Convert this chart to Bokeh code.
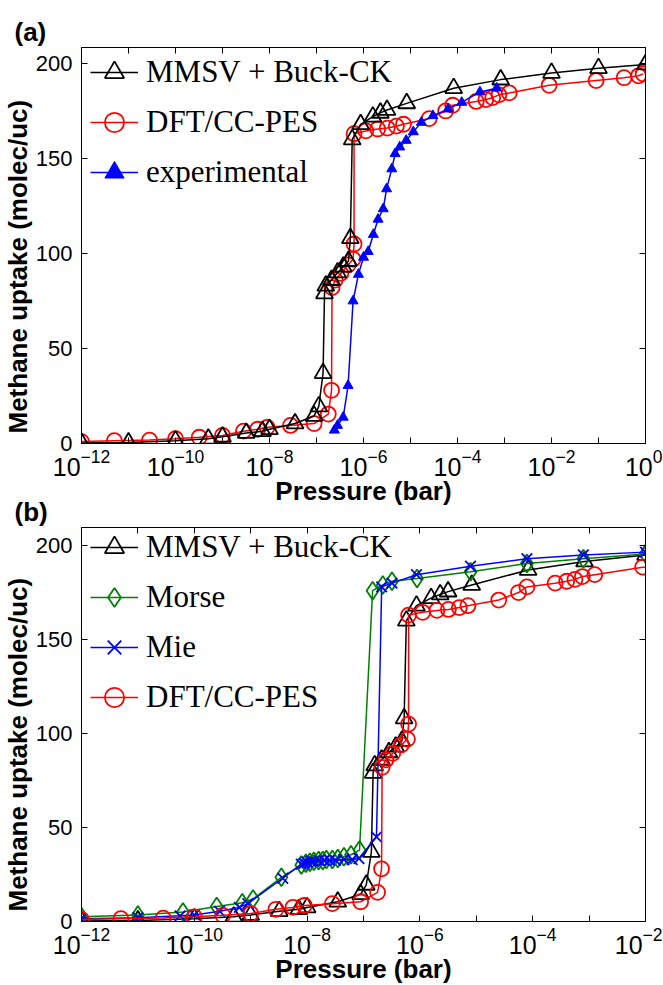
from bokeh.plotting import figure
from bokeh.models import (LinearAxis, LogAxis, FixedTicker, Legend, LegendItem,
                          Title, CustomJSTickFormatter)
from bokeh.layouts import column
from bokeh.embed import file_html
from bokeh.resources import INLINE

# ---------------- data (pressure in bar, uptake in molec/uc) ----------------
mmsv_p = [1e-12, 1e-11, 1e-10, 5.0e-10, 1.0e-9, 3.2e-9, 7.1e-9, 1.0e-8, 3.5e-8, 8.9e-8,
          1.12e-7, 1.38e-7, 1.48e-7, 1.58e-7, 2.09e-7, 2.82e-7, 3.72e-7, 4.79e-7, 5.25e-7,
          5.75e-7, 8.7e-7, 1.58e-6, 2.29e-6, 3.16e-6, 8.3e-6, 8.3e-5, 8.3e-4, 1.0e-2, 1.0e-1, 1.0]
mmsv_u = [0.3, 0.5, 1.5, 2.5, 3.5, 5.5, 6.5, 7.5, 10.5, 14.5,
          19.5, 37, 79, 83, 86, 90, 93, 96, 108,
          160, 168, 172, 174, 175.5, 179, 187, 191.5, 195, 197.5, 199.5]

dft_p = [1e-12, 5.0e-12, 2.8e-11, 1.0e-10, 3.2e-10, 1.0e-9, 2.8e-9, 5.6e-9, 8.9e-9, 2.8e-8,
         8.9e-8, 1.78e-7, 2.09e-7, 2.14e-7, 2.5e-7, 3.3e-7, 4.7e-7, 6.0e-7, 6.3e-7, 6.3e-7,
         1.12e-6, 2.0e-6, 3.2e-6, 5.0e-6, 7.1e-6, 2.5e-5, 5.6e-5, 7.9e-5, 2.5e-4, 4.0e-4,
         5.6e-4, 7.6e-4, 1.26e-3, 8.9e-3, 8.9e-2, 0.35, 0.71, 0.89]
dft_u = [1.0, 1.5, 1.8, 2.5, 3.3, 4.2, 6.5, 7.5, 8.5, 9.5,
         10.5, 15.5, 28, 82, 86, 89.5, 94, 97, 105, 163,
         164.5, 165.5, 166, 167, 168, 171, 175, 178, 180, 181,
         182, 183.5, 184.5, 188.5, 191, 192.5, 193.5, 194.5]

exp_p = [2.4e-7, 2.8e-7, 3.7e-7, 4.7e-7, 6.0e-7, 7.8e-7, 1.0e-6, 1.26e-6, 1.62e-6, 2.04e-6,
         2.63e-6, 3.1e-6, 4.0e-6, 4.7e-6, 5.9e-6, 8.1e-6, 1.15e-5, 1.7e-5, 3.0e-5, 6.3e-5,
         1.23e-4, 3.0e-4, 6.8e-4]
exp_u = [7, 9.5, 13.8, 30.5, 75, 89, 98, 101, 110, 118,
         123.5, 134, 144.5, 152.5, 156, 159.5, 164, 169, 172.5, 176,
         179.5, 185, 187]

morse_p = [1e-12, 1e-11, 6.3e-11, 2.5e-10, 7.1e-10, 1.1e-9, 3.5e-9, 7.9e-9, 9.5e-9, 1.12e-8,
           1.32e-8, 1.6e-8, 1.9e-8, 2.2e-8, 2.8e-8, 3.5e-8, 4.5e-8, 6.0e-8, 8.5e-8, 1.45e-7,
           2.2e-7, 3.2e-7, 8.9e-7, 7.9e-6, 7.9e-5, 7.9e-4, 1e-2]
morse_u = [2.5, 3.5, 5, 8, 10, 12, 23.5, 30, 31, 31.5,
           32, 32.5, 32.5, 33, 33, 33.5, 34.5, 35.5, 38, 176,
           179, 181, 182.5, 186, 190.5, 193, 195.5]

mie_p = [1e-12, 1e-11, 5.6e-11, 1e-10, 2.8e-10, 6.3e-10, 8.9e-10, 3.7e-9, 7.9e-9, 8.9e-9,
         1.0e-8, 1.15e-8, 1.3e-8, 1.6e-8, 2.0e-8, 2.5e-8, 3.2e-8, 4.5e-8, 6.3e-8, 8.3e-8,
         1.7e-7, 2.1e-7, 3.2e-7, 8.7e-7, 7.9e-6, 7.9e-5, 7.9e-4, 1e-2]
mie_u = [1.5, 2, 3, 3.5, 5.5, 7.5, 9.5, 23, 30.5, 31,
         31.5, 32, 32, 32.5, 32.5, 32.5, 32.5, 33, 33, 33.5,
         45, 178, 180, 184.5, 189, 193, 195, 196.5]

a_xticks = [1e-12, 1e-10, 1e-8, 1e-6, 1e-4, 1e-2, 1e0]
a_xminor = [1e-11, 1e-9, 1e-7, 1e-5, 1e-3, 1e-1]
b_xticks = [1e-12, 1e-10, 1e-8, 1e-6, 1e-4, 1e-2]
b_xminor = [1e-11, 1e-9, 1e-7, 1e-5, 1e-3]
y_ticks = [0, 50, 100, 150, 200]

a_labels = ["MMSV + Buck-CK", "DFT/CC-PES", "experimental"]
b_labels = ["MMSV + Buck-CK", "Morse", "Mie", "DFT/CC-PES"]
x_title = "Pressure (bar)"
y_title = "Methane uptake (molec/uc)"

SANS = "Liberation Sans"
SERIF = "Liberation Serif"
FW = 564


def style_axis(ax):
    ax.axis_line_color = "black"
    ax.axis_line_width = 1
    ax.major_tick_line_color = "black"
    ax.minor_tick_line_color = "black"
    ax.major_tick_in = 6
    ax.major_tick_out = 0
    ax.minor_tick_in = 6
    ax.minor_tick_out = 0


def make_fig(xr, ytop, xticks, xminor, fh, btop, bbot):
    p = figure(x_axis_type="log", x_range=xr, y_range=(0, ytop),
               frame_width=FW, frame_height=fh,
               min_border_left=80, min_border_right=17,
               min_border_top=btop, min_border_bottom=bbot,
               toolbar_location=None, output_backend="svg")
    p.xgrid.visible = False
    p.ygrid.visible = False
    p.outline_line_color = "black"
    p.outline_line_width = 1

    xa = p.xaxis[0]
    xa.ticker = FixedTicker(ticks=xticks, minor_ticks=xminor)
    style_axis(xa)
    xa.major_label_text_font = SANS
    xa.major_label_text_font_size = "25px"
    xa.major_label_text_color = "black"
    xa.major_label_standoff = 5
    xa.axis_label = x_title
    xa.axis_label_text_font = SANS
    xa.axis_label_text_font_style = "bold"
    xa.axis_label_text_font_size = "26px"
    xa.axis_label_text_color = "black"
    xa.axis_label_standoff = -3

    ya = p.yaxis[0]
    ya.ticker = FixedTicker(ticks=y_ticks)
    style_axis(ya)
    ya.major_label_text_font = SANS
    ya.major_label_text_font_size = "22px"
    ya.major_label_text_color = "black"
    ya.major_label_standoff = 9

    # y label: sits a little below the middle of the axis, as in the original
    p.add_layout(Title(text=y_title, align="left", offset=10, standoff=0,
                       vertical_align="bottom", text_font=SANS,
                       text_font_style="bold", text_font_size="26px",
                       text_color="black"), "left")

    top = LogAxis(ticker=FixedTicker(ticks=xticks, minor_ticks=xminor),
                  formatter=CustomJSTickFormatter(code="return ''"))
    style_axis(top)
    top.major_label_standoff = 0
    top.major_label_text_font_size = "0px"
    p.add_layout(top, "above")
    right = LinearAxis(ticker=FixedTicker(ticks=y_ticks),
                       formatter=CustomJSTickFormatter(code="return ''"))
    style_axis(right)
    right.major_label_standoff = 0
    right.major_label_text_font_size = "0px"
    p.add_layout(right, "right")
    return p


def tag_title(text, standoff, valign):
    return Title(text=text, align="left", offset=-67, standoff=standoff,
                 vertical_align=valign,
                 text_font=SANS, text_font_style="bold", text_font_size="26px",
                 text_color="black")


def add_legend(p, items, fh, top_off):
    n = len(items)
    leg = Legend(items=items, location=(9, fh - n * 50 + top_off),
                 padding=0, margin=0, spacing=0,
                 glyph_width=48, glyph_height=50, label_height=50,
                 label_standoff=8, label_text_font=SERIF,
                 label_text_font_size="31px", label_text_color="black",
                 border_line_alpha=0, background_fill_alpha=0)
    p.add_layout(leg)


# ---------------- panel (a) ----------------
FHA = 396
pa = make_fig((1e-12, 1.0), 208.4, a_xticks, a_xminor, FHA, 47, 83)
pa.title = tag_title("(a)", 2, "bottom")
# tag of the lower panel, drawn just under the pressure label of panel (a)
pa.add_layout(tag_title("(b)", -23, "top"), "below")

la_d = pa.line(dft_p, dft_u, line_color="red", line_width=1.5)
sa_d = pa.scatter(dft_p, dft_u, marker="circle", size=15, line_color="red",
                  fill_alpha=0, line_width=1.8)
la_m = pa.line(mmsv_p, mmsv_u, line_color="black", line_width=1.5)
sa_m = pa.scatter(mmsv_p, mmsv_u, marker="triangle", size=17, line_color="black",
                  fill_alpha=0, line_width=1.8)
la_e = pa.line(exp_p, exp_u, line_color="blue", line_width=1.5)
sa_e = pa.scatter(exp_p, exp_u, marker="triangle", size=10, line_color="blue",
                  fill_color="blue", line_width=1)

add_legend(pa, [LegendItem(label=a_labels[0], renderers=[la_m, sa_m]),
                LegendItem(label=a_labels[1], renderers=[la_d, sa_d]),
                LegendItem(label=a_labels[2], renderers=[la_e, sa_e])], FHA, 0)

# ---------------- panel (b) ----------------
FHB = 394
pb = make_fig((1e-12, 1e-2), 209.6, b_xticks, b_xminor, FHB, 1, 56)

lb_m = pb.line(mmsv_p, mmsv_u, line_color="black", line_width=1.5)
sb_m = pb.scatter(mmsv_p, mmsv_u, marker="triangle", size=17, line_color="black",
                  fill_alpha=0, line_width=1.8)
lb_o = pb.line(morse_p, morse_u, line_color="green", line_width=1.5)
sb_o = pb.scatter(morse_p, morse_u, marker="diamond", size=18,
                  line_color="green", fill_alpha=0, line_width=1.8)
lb_i = pb.line(mie_p, mie_u, line_color="blue", line_width=1.5)
sb_i = pb.scatter(mie_p, mie_u, marker="x", size=15, line_color="blue", line_width=1.8)
lb_d = pb.line(dft_p, dft_u, line_color="red", line_width=1.5)
sb_d = pb.scatter(dft_p, dft_u, marker="circle", size=15, line_color="red",
                  fill_alpha=0, line_width=1.8)

add_legend(pb, [LegendItem(label=b_labels[0], renderers=[lb_m, sb_m]),
                LegendItem(label=b_labels[1], renderers=[lb_o, sb_o]),
                LegendItem(label=b_labels[2], renderers=[lb_i, sb_i]),
                LegendItem(label=b_labels[3], renderers=[lb_d, sb_d])], FHB, 5)

layout = column(pa, pb, spacing=0)
open("out.html", "w").write(file_html(layout, INLINE))
